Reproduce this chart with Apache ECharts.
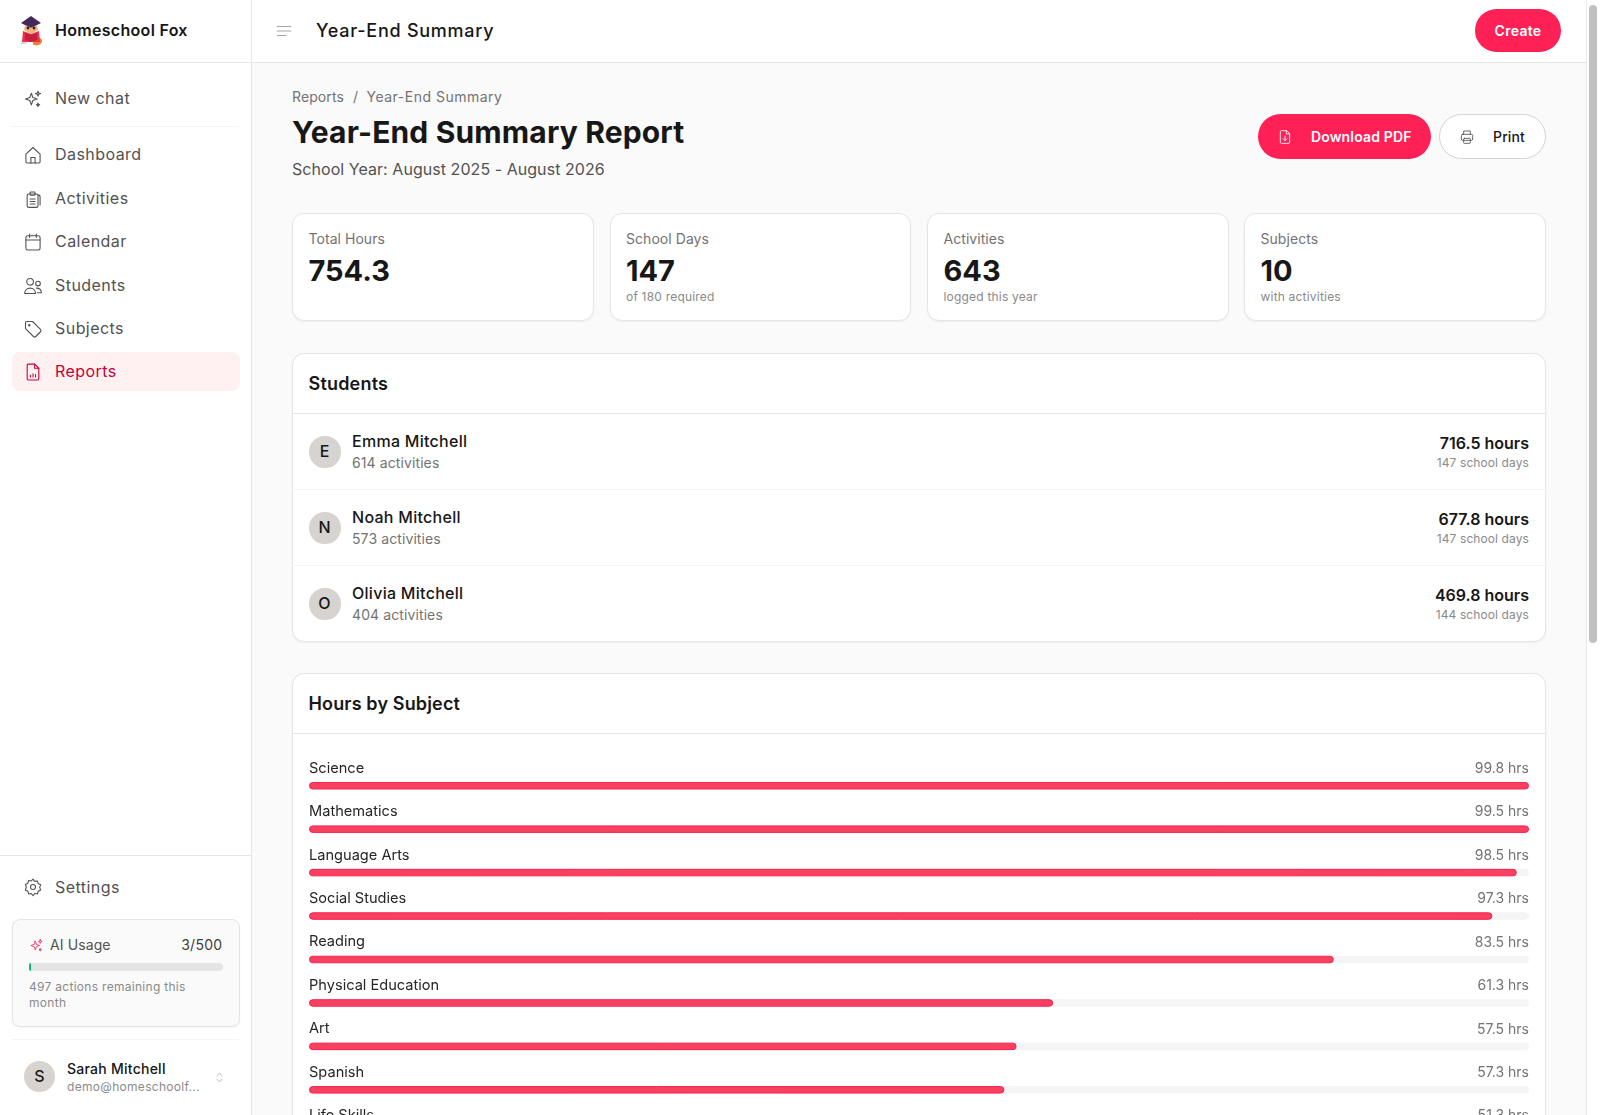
<!DOCTYPE html>
<html>
<head>
<meta charset="utf-8">
<title>Year-End Summary</title>
<script src="https://cdn.jsdelivr.net/npm/echarts@6/dist/echarts.min.js"></script>
<style>
  html, body { margin: 0; height: 100%; overflow: hidden; background: #fafafa; font-family: Inter, "Noto Sans", sans-serif; color: #171717; }
  #page { position: relative; width: 1600px; height: 1115px; overflow: hidden; }
  .box { position: absolute; box-sizing: border-box; }
  .t { position: absolute; white-space: nowrap; transform: translateY(-50%); line-height: 1.2; }
  .r { transform: translate(-100%, -50%); }
  .card { background: #fff; border: 1px solid #e5e5e5; border-radius: 12px; box-shadow: 0 1px 2px rgba(0,0,0,.05); }
  svg.i { position: absolute; fill: none; stroke: #525252; stroke-width: 1.3; stroke-linecap: round; stroke-linejoin: round; }
  #subject-chart { position: absolute; left: 293px; top: 734px; width: 1252px; height: 440px; }
</style>
</head>
<body>
<div id="page"></div>
<script>
  var navItems = ['Dashboard', 'Activities', 'Calendar', 'Students', 'Subjects', 'Reports'];
  var navY = [155, 198.5, 242, 285.5, 328.5, 372];

  var statLabels = ['Total Hours', 'School Days', 'Activities', 'Subjects'];
  var statValues = ['754.3', '147', '643', '10'];
  var statNotes = ['', 'of 180 required', 'logged this year', 'with activities'];

  var studentNames = ['Emma Mitchell', 'Noah Mitchell', 'Olivia Mitchell'];
  var studentActivities = [614, 573, 404];
  var studentHours = [716.5, 677.8, 469.8];
  var studentDays = [147, 147, 144];

  var subjects = ['Science', 'Mathematics', 'Language Arts', 'Social Studies', 'Reading', 'Physical Education', 'Art', 'Spanish', 'Life Skills'];
  var subjectHours = [99.8, 99.5, 98.5, 97.3, 83.5, 61.3, 57.5, 57.3, 51.3];
  var subjectFill = [100, 100, 99, 97, 84, 61, 58, 57, 51];

  var page = document.getElementById('page');
  var ROSE = '#ff2056';

  function box(x, y, w, h, css, cls) {
    var d = document.createElement('div');
    d.className = 'box ' + (cls || '');
    d.style.cssText = 'left:' + x + 'px;top:' + y + 'px;width:' + w + 'px;height:' + h + 'px;' + (css || '');
    page.appendChild(d);
    return d;
  }
  function txt(x, y, s, size, weight, color, right, ls, extra) {
    var d = document.createElement('div');
    d.className = 't' + (right ? ' r' : '');
    d.textContent = s;
    d.style.cssText = 'left:' + x + 'px;top:' + y + 'px;font-size:' + size + 'px;font-weight:' + weight + ';color:' + color + ';letter-spacing:' + (ls || 0) + 'px;' + (extra || '');
    page.appendChild(d);
    return d;
  }
  function icon(x, y, inner, color, size) {
    size = size || 20;
    var wrap = document.createElement('div');
    wrap.innerHTML = '<svg class="i" viewBox="0 0 24 24" width="' + size + '" height="' + size + '" style="left:' + (x - size / 2) + 'px;top:' + (y - size / 2) + 'px;' + (color ? 'stroke:' + color : '') + '">' + inner + '</svg>';
    page.appendChild(wrap.firstChild);
  }

  var CENTER = 'transform:translate(-50%,-50%)';
  var ICONS = {
    spark: '<path d="M10 5l1.800 5.200L17 12l-5.200 1.800L10 19l-1.800-5.200L3 12l5.200-1.800z"/><path d="M18 2.500l.8 2.200 2.200.8-2.200.8-.8 2.200-.8-2.200-2.200-.8 2.200-.8z"/><path d="M18 17l.6 1.400 1.400.6-1.400.6-.6 1.400-.6-1.400-1.400-.6 1.400-.6z"/>',
    Dashboard: '<path d="M3.500 11l8.500-8 8.500 8v9a1.500 1.500 0 0 1-1.500 1.500H5A1.500 1.500 0 0 1 3.500 20z"/><path d="M9.500 21.500V15h5v6.500"/>',
    Activities: '<rect x="5" y="6" width="13" height="16" rx="2"/><rect x="8.500" y="3.500" width="6" height="4" rx="1"/><path d="M8.500 12h6M8.500 15h6M8.500 18h6M18 7c1.500 0 2.500 1 2.500 2.500V19"/>',
    Calendar: '<rect x="3.500" y="4.500" width="17" height="17" rx="2"/><path d="M3.500 9.500h17M8 2.500v4M16 2.500v4"/>',
    Students: '<circle cx="8.500" cy="7" r="4"/><circle cx="18" cy="9" r="2.800"/><path d="M2 21c0-4 2.800-6.500 6.500-6.500S15 17 15 21z"/><path d="M16 14.500c3.200 0 6 2 6 5.500h-5"/>',
    Subjects: '<path d="M3 4.500A1.500 1.500 0 0 1 4.500 3h7L21 12.500a2 2 0 0 1 0 2.800L15.300 21a2 2 0 0 1-2.800 0L3 11.500z"/><circle cx="7.500" cy="7.500" r=".8"/>',
    Reports: '<path d="M14 2.500H6.500A1.500 1.500 0 0 0 5 4v16a1.500 1.500 0 0 0 1.500 1.500h11A1.500 1.500 0 0 0 19 20V7.500z"/><path d="M14 2.500v5h5"/><path d="M9 18v-2M12 18v-4M15 18v-3"/>',
    gear: '<circle cx="12" cy="12" r="3"/><path d="M12 2.500l2 2.700 3.300-.5.9 3.200 3 1.500-1.200 3.100 1.200 3.100-3 1.500-.9 3.200-3.300-.5-2 2.700-2-2.700-3.300.5-.9-3.200-3-1.500L4 12 2.800 8.900l3-1.500.9-3.200 3.300.5z"/>',
    pdf: '<path d="M14 2.500H6.500A1.500 1.500 0 0 0 5 4v16a1.500 1.500 0 0 0 1.500 1.500h11A1.500 1.500 0 0 0 19 20V7.500z"/><path d="M14 2.500v5h5"/><path d="M12 10.500v7M9 14.500l3 3 3-3"/>',
    print: '<path d="M7 8V3h10v5"/><rect x="3.500" y="8" width="17" height="9" rx="2"/><rect x="7" y="14" width="10" height="7.500" rx="1"/>'
  };

  // shell
  box(0, 0, 252, 1115, 'background:#fff;border-right:1px solid #e5e5e5');
  box(252, 0, 1334, 63, 'background:#fff;border-bottom:1px solid #e5e5e5');
  box(0, 62, 252, 1, 'background:#e5e5e5');
  box(1586, 0, 14, 1115, 'background:#fff;border-left:1px solid #ececec');
  box(1589, 5, 8, 638, 'background:#c1c1c1;border-radius:4px');

  // logo
  var logo = document.createElement('div');
  logo.innerHTML = '<svg style="position:absolute;left:20px;top:15px" width="23" height="32" viewBox="0 0 23 32">' +
    '<path d="M4 21c-2 3-3 6-3 8h6z" fill="#d9d9d9"/>' +
    '<path d="M13 25c3-3 9-3 9 1 0 4-7 6-9 3z" fill="#f07f2e"/>' +
    '<path d="M11 1l10 7-10 5L1 8z" fill="#43285a"/>' +
    '<path d="M5 10l6 3 6-3 1 5-7 4-7-4z" fill="#f2b27a"/>' +
    '<circle cx="8" cy="13" r="1.400" fill="#222"/><circle cx="14" cy="13" r="1.400" fill="#222"/>' +
    '<path d="M3 16l8 3 8-3 1 11H2z" fill="#e8324f"/>' +
    '<path d="M5 18l6 2 6-2v7l-6 2-6-2z" fill="#c61f3d"/></svg>';
  page.appendChild(logo.firstChild);
  txt(55, 31, 'Homeschool Fox', 16, 600, '#171717', false, .3);
  icon(284, 31, '<path d="M3 6h18M3 12h18M3 18h12"/>', '#a3a3a3', 18);
  txt(316, 31, 'Year-End Summary', 18, 500, '#171717', false, .75);
  box(1475, 9, 86, 43, 'background:' + ROSE + ';border-radius:22px');
  txt(1518, 31, 'Create', 14, 600, '#fff', false, .3, CENTER);

  // sidebar
  icon(33, 98.5, ICONS.spark);
  txt(55, 99, 'New chat', 16, 400, '#525252', false, .45);
  box(12, 126, 227, 1, 'background:#f5f5f5');
  box(12, 352, 228, 39, 'background:#fff1f2;border-radius:8px');
  navItems.forEach(function (name, i) {
    var on = name === 'Reports';
    icon(33, navY[i], ICONS[name], on ? '#c70036' : null);
    txt(55, navY[i], name, 16, 400, on ? '#c70036' : '#525252', false, .45);
  });
  box(0, 855, 252, 1, 'background:#e5e5e5');
  icon(33, 887, ICONS.gear);
  txt(55, 887.5, 'Settings', 16, 400, '#525252', false, .45);
  box(12, 919, 228, 108, 'background:#fafafa;border:1px solid #e5e5e5;border-radius:8px;box-shadow:0 1px 2px rgba(0,0,0,.05)');
  icon(36, 945.5, ICONS.spark, ROSE, 15);
  txt(50, 945, 'AI Usage', 14, 400, '#525252', false, .1);
  txt(222.5, 945, '3/500', 14, 400, '#404040', true, .3);
  box(29, 963, 194, 8, 'background:#e5e5e5;border-radius:4px');
  box(29, 963, 2, 8, 'background:#10b981;border-radius:4px 0 0 4px');
  txt(29, 987, '497 actions remaining this', 12, 400, '#8a8a8a', false, .29);
  txt(29, 1002.5, 'month', 12, 400, '#8a8a8a', false, .29);
  box(12, 1039, 227, 1, 'background:#f5f5f5');
  box(24, 1061, 31, 31, 'background:#d6d3d1;border-radius:50%');
  txt(39.5, 1077, 'S', 16, 500, '#171717', false, 0, CENTER);
  txt(67, 1069, 'Sarah Mitchell', 14, 500, '#171717', false, .25);
  txt(67, 1087, 'demo@homeschoolf...', 12, 400, '#8a8a8a', false, .3);
  icon(219.5, 1077, '<path d="M8 9l4-4 4 4M8 15l4 4 4-4" />', '#a3a3a3', 15);

  // page head
  txt(292, 96.5, 'Reports', 14, 400, '#737373', false, .1);
  txt(353, 96.5, '/', 14, 400, '#737373');
  txt(366.5, 96.5, 'Year-End Summary', 14, 400, '#737373', false, .5);
  txt(292, 132, 'Year-End Summary Report', 30, 700, '#171717', false, .15);
  txt(292, 169.5, 'School Year: August 2025 - August 2026', 16, 400, '#525252', false, .05);
  box(1258, 114, 173, 45, 'background:' + ROSE + ';border-radius:23px');
  icon(1285, 137, ICONS.pdf, '#fff', 16);
  txt(1311, 136.5, 'Download PDF', 14, 600, '#fff', false, .15);
  box(1439, 114, 107, 45, 'background:#fff;border:1px solid #d4d4d4;border-radius:23px');
  icon(1467, 137, ICONS.print, '#525252', 16);
  txt(1493, 136.5, 'Print', 14, 500, '#171717', false, .15);

  // stat cards
  var cardX = [292, 609.5, 927, 1244];
  statLabels.forEach(function (label, i) {
    box(cardX[i], 213, 301.5, 108, '', 'card');
    txt(cardX[i] + 16.5, 239, label, 14, 400, '#737373', false, .05);
    txt(cardX[i] + 16.5, 271, statValues[i], 29, 700, '#171717');
    if (statNotes[i]) txt(cardX[i] + 16.5, 297, statNotes[i], 12, 400, '#8a8a8a', false, .2);
  });

  // students
  box(292, 353, 1254, 289, '', 'card');
  txt(308.5, 383.5, 'Students', 18, 600, '#171717', false, .2);
  box(292, 413, 1254, 1, 'background:#e5e5e5');
  box(292, 489, 1254, 1, 'background:#f5f5f5');
  box(292, 565, 1254, 1, 'background:#f5f5f5');
  var rowY = [452, 528, 604];
  studentNames.forEach(function (name, i) {
    var y = rowY[i];
    box(309, y - 16, 31.5, 31.5, 'background:#d6d3d1;border-radius:50%');
    txt(324.5, y, name.charAt(0), 16, 500, '#171717', false, 0, CENTER);
    txt(352, y - 10, name, 16, 500, '#171717', false, .28);
    txt(352, y + 11, studentActivities[i] + ' activities', 14, 400, '#737373', false, .1);
    txt(1529, y - 8, studentHours[i] + ' hours', 16, 600, '#171717', true, 0);
    txt(1529, y + 11, studentDays[i] + ' school days', 12, 400, '#8a8a8a', true, .1);
  });

  // hours by subject
  box(292, 673, 1254, 520, '', 'card');
  txt(308.5, 704, 'Hours by Subject', 18, 600, '#171717', false, .15);
  box(292, 733, 1254, 1, 'background:#e5e5e5');

  var chartDom = document.createElement('div');
  chartDom.id = 'subject-chart';
  page.appendChild(chartDom);

  var myChart = echarts.init(chartDom);
  var option = {
    animation: false,
    grid: { left: 16, right: 16, top: 30, height: 391 },
    xAxis: { type: 'value', min: 0, max: 100, show: false },
    yAxis: [
      {
        type: 'category',
        inverse: true,
        data: subjects,
        axisLine: { show: false },
        axisTick: { show: false },
        axisLabel: {
          inside: true, margin: 0, align: 'left', verticalAlign: 'bottom',
          padding: [0, 0, 10, 0],
          fontFamily: 'Inter', fontSize: 14.6, color: '#262626'
        }
      },
      {
        type: 'category',
        position: 'right',
        inverse: true,
        data: subjectHours.map(function (h) { return h + ' hrs'; }),
        axisLine: { show: false },
        axisTick: { show: false },
        axisLabel: {
          inside: true, margin: 0, align: 'right', verticalAlign: 'bottom',
          padding: [0, 0, 10, 0],
          fontFamily: 'Inter', fontSize: 14, color: '#737373'
        }
      }
    ],
    series: [
      {
        name: 'Hours',
        type: 'bar',
        yAxisIndex: 0,
        barWidth: 7.5,
        data: subjectFill,
        showBackground: true,
        backgroundStyle: { color: '#f5f5f5', borderRadius: 4 },
        itemStyle: { color: '#f8405f', borderColor: '#fb2056', borderWidth: 1, borderRadius: 4 }
      }
    ]
  };
  myChart.setOption(option);
</script>
</body>
</html>
